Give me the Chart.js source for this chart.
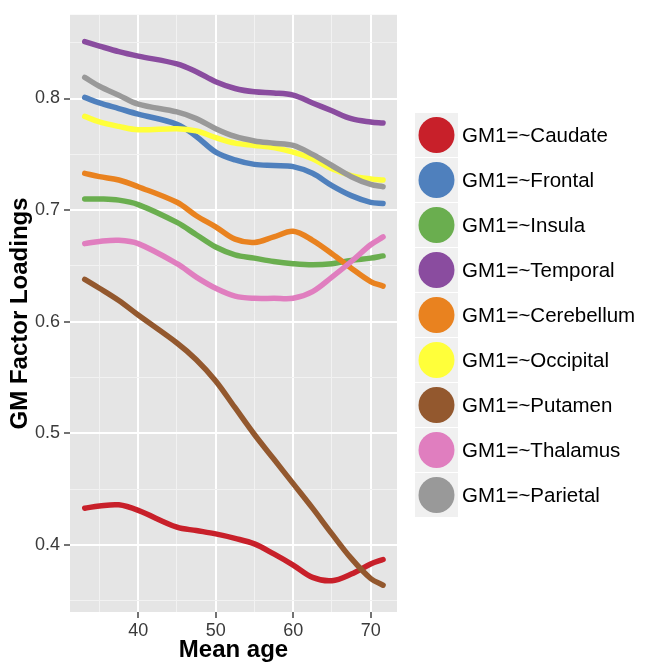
<!DOCTYPE html>
<html>
<head>
<meta charset="utf-8">
<script src="https://cdn.jsdelivr.net/npm/chart.js@4/dist/chart.umd.min.js"></script>
<style>
    html, body { margin: 0; padding: 0; background: #fff; }
    #wrap { width: 645px; height: 665px; }
</style>
</head>
<body>
<div id="wrap"><canvas id="grafico" width="645" height="665"></canvas></div>
<script>
// x positions (mean age) where the curves were read
const ages = [33.1, 35, 37.5, 40, 45, 47.5, 50, 52.5, 55, 57.5, 60, 62.5, 65, 67.5, 70, 71.6];

const caudate    = [0.433, 0.435, 0.436, 0.431, 0.416, 0.413, 0.410, 0.406, 0.401, 0.392, 0.382, 0.371, 0.368, 0.374, 0.383, 0.387];
const frontal    = [0.801, 0.796, 0.791, 0.786, 0.777, 0.766, 0.752, 0.745, 0.741, 0.740, 0.739, 0.733, 0.722, 0.713, 0.707, 0.706];
const insula     = [0.710, 0.710, 0.709, 0.705, 0.689, 0.678, 0.667, 0.660, 0.657, 0.654, 0.652, 0.651, 0.652, 0.655, 0.657, 0.659];
const temporal   = [0.851, 0.847, 0.842, 0.838, 0.831, 0.824, 0.815, 0.809, 0.806, 0.805, 0.803, 0.796, 0.789, 0.782, 0.779, 0.778];
const cerebellum = [0.733, 0.730, 0.727, 0.721, 0.707, 0.695, 0.685, 0.674, 0.671, 0.676, 0.681, 0.673, 0.661, 0.648, 0.636, 0.632];
const occipital  = [0.784, 0.779, 0.775, 0.772, 0.773, 0.771, 0.765, 0.760, 0.758, 0.756, 0.752, 0.746, 0.737, 0.731, 0.728, 0.727];
const putamen    = [0.638, 0.630, 0.619, 0.606, 0.581, 0.566, 0.547, 0.523, 0.499, 0.477, 0.455, 0.433, 0.410, 0.388, 0.370, 0.364];
const thalamus   = [0.670, 0.672, 0.673, 0.670, 0.652, 0.640, 0.630, 0.623, 0.621, 0.621, 0.621, 0.627, 0.640, 0.654, 0.669, 0.676];
const parietal   = [0.819, 0.811, 0.803, 0.795, 0.788, 0.782, 0.773, 0.766, 0.762, 0.760, 0.758, 0.750, 0.740, 0.730, 0.723, 0.721];

const labels = ['GM1=~Caudate', 'GM1=~Frontal', 'GM1=~Insula', 'GM1=~Temporal', 'GM1=~Cerebellum',
    'GM1=~Occipital', 'GM1=~Putamen', 'GM1=~Thalamus', 'GM1=~Parietal'];
const series = [caudate, frontal, insula, temporal, cerebellum, occipital, putamen, thalamus, parietal];
const colors = ['#c8202a', '#4f80bd', '#6aae4f', '#8a4c9f', '#e9821f', '#ffff3a', '#93582e', '#e07ebf', '#999999'];

const isMajorY = v => Math.abs(v * 10 - Math.round(v * 10)) < 1e-6;
const isMajorX = v => Math.abs(v / 10 - Math.round(v / 10)) < 1e-6;

Chart.defaults.font.family = '"Liberation Sans", Arial, Helvetica, sans-serif';

const panelBg = {
    id: 'panelBg',
    beforeDraw(chart) {
        const { ctx, chartArea: a } = chart;
        ctx.save();
        ctx.fillStyle = '#e5e5e5';
        ctx.fillRect(a.left, a.top, a.right - a.left, a.bottom - a.top);
        ctx.restore();
    }
};

// ggplot-like legend keys on the right
const keyLegend = {
    id: 'keyLegend',
    afterDraw(chart) {
        const ctx = chart.ctx;
        ctx.save();
        chart.data.datasets.forEach((ds, i) => {
            const top = 113 + i * 45;
            ctx.fillStyle = '#f0f0f0';
            ctx.fillRect(415, top, 43, 44);
            ctx.beginPath();
            ctx.arc(436.5, top + 22, 18, 0, Math.PI * 2);
            ctx.fillStyle = ds.borderColor;
            ctx.fill();
            ctx.fillStyle = '#000';
            ctx.font = '20.5px "Liberation Sans", Arial, sans-serif';
            ctx.textBaseline = 'middle';
            ctx.textAlign = 'left';
            ctx.fillText(ds.label, 462, top + 23);
        });
        ctx.restore();
    }
};

const ctx = document.getElementById('grafico').getContext('2d');
new Chart(ctx, {
    type: 'line',
    data: {
        datasets: series.map((vals, i) => ({
            label: labels[i],
            data: ages.map((a, j) => ({ x: a, y: vals[j] })),
            borderColor: colors[i],
            backgroundColor: colors[i],
            borderWidth: 5.5,
            borderCapStyle: 'round',
            borderJoinStyle: 'round',
            pointRadius: 0,
            tension: 0.35,
            order: -i
        }))
    },
    options: {
        responsive: false,
        animation: false,
        devicePixelRatio: 1,
        layout: { padding: { left: 0, top: 12, right: 248, bottom: 0 } },
        plugins: { legend: { display: false }, tooltip: { enabled: false } },
        scales: {
            x: {
                type: 'linear',
                min: 31.2,
                max: 73.4,
                afterFit: s => { s.height = 53; },
                border: { display: false },
                grid: {
                    color: c => isMajorX(c.tick.value) ? '#ffffff' : '#f2f2f2',
                    lineWidth: c => isMajorX(c.tick.value) ? 2 : 1,
                    tickColor: c => isMajorX(c.tick.value) ? '#444' : 'rgba(0,0,0,0)',
                    tickWidth: 1.5,
                    tickLength: 6
                },
                ticks: {
                    stepSize: 5,
                    includeBounds: false,
                    autoSkip: false,
                    maxRotation: 0,
                    padding: 2,
                    color: '#3a3a3a',
                    font: { size: 18 },
                    callback: v => isMajorX(v) ? String(Math.round(v)) : ''
                },
                title: {
                    display: true,
                    text: 'Mean age',
                    color: '#000',
                    font: { size: 24, weight: 'bold' },
                    padding: { top: 0, bottom: 0 }
                }
            },
            y: {
                min: 0.34,
                max: 0.875,
                afterFit: s => { s.width = 70; },
                border: { display: false },
                grid: {
                    color: c => isMajorY(c.tick.value) ? '#ffffff' : '#f2f2f2',
                    lineWidth: c => isMajorY(c.tick.value) ? 2 : 1,
                    tickColor: c => isMajorY(c.tick.value) ? '#444' : 'rgba(0,0,0,0)',
                    tickWidth: 1.5,
                    tickLength: 6
                },
                ticks: {
                    stepSize: 0.05,
                    includeBounds: false,
                    autoSkip: false,
                    padding: 4,
                    color: '#3a3a3a',
                    font: { size: 18 },
                    callback: v => isMajorY(v) ? v.toFixed(1) : ''
                },
                title: {
                    display: true,
                    text: 'GM Factor Loadings',
                    color: '#000',
                    font: { size: 24, weight: 'bold' },
                    padding: { top: 6, bottom: 0 }
                }
            }
        }
    },
    plugins: [panelBg, keyLegend]
});
</script>
</body>
</html>
